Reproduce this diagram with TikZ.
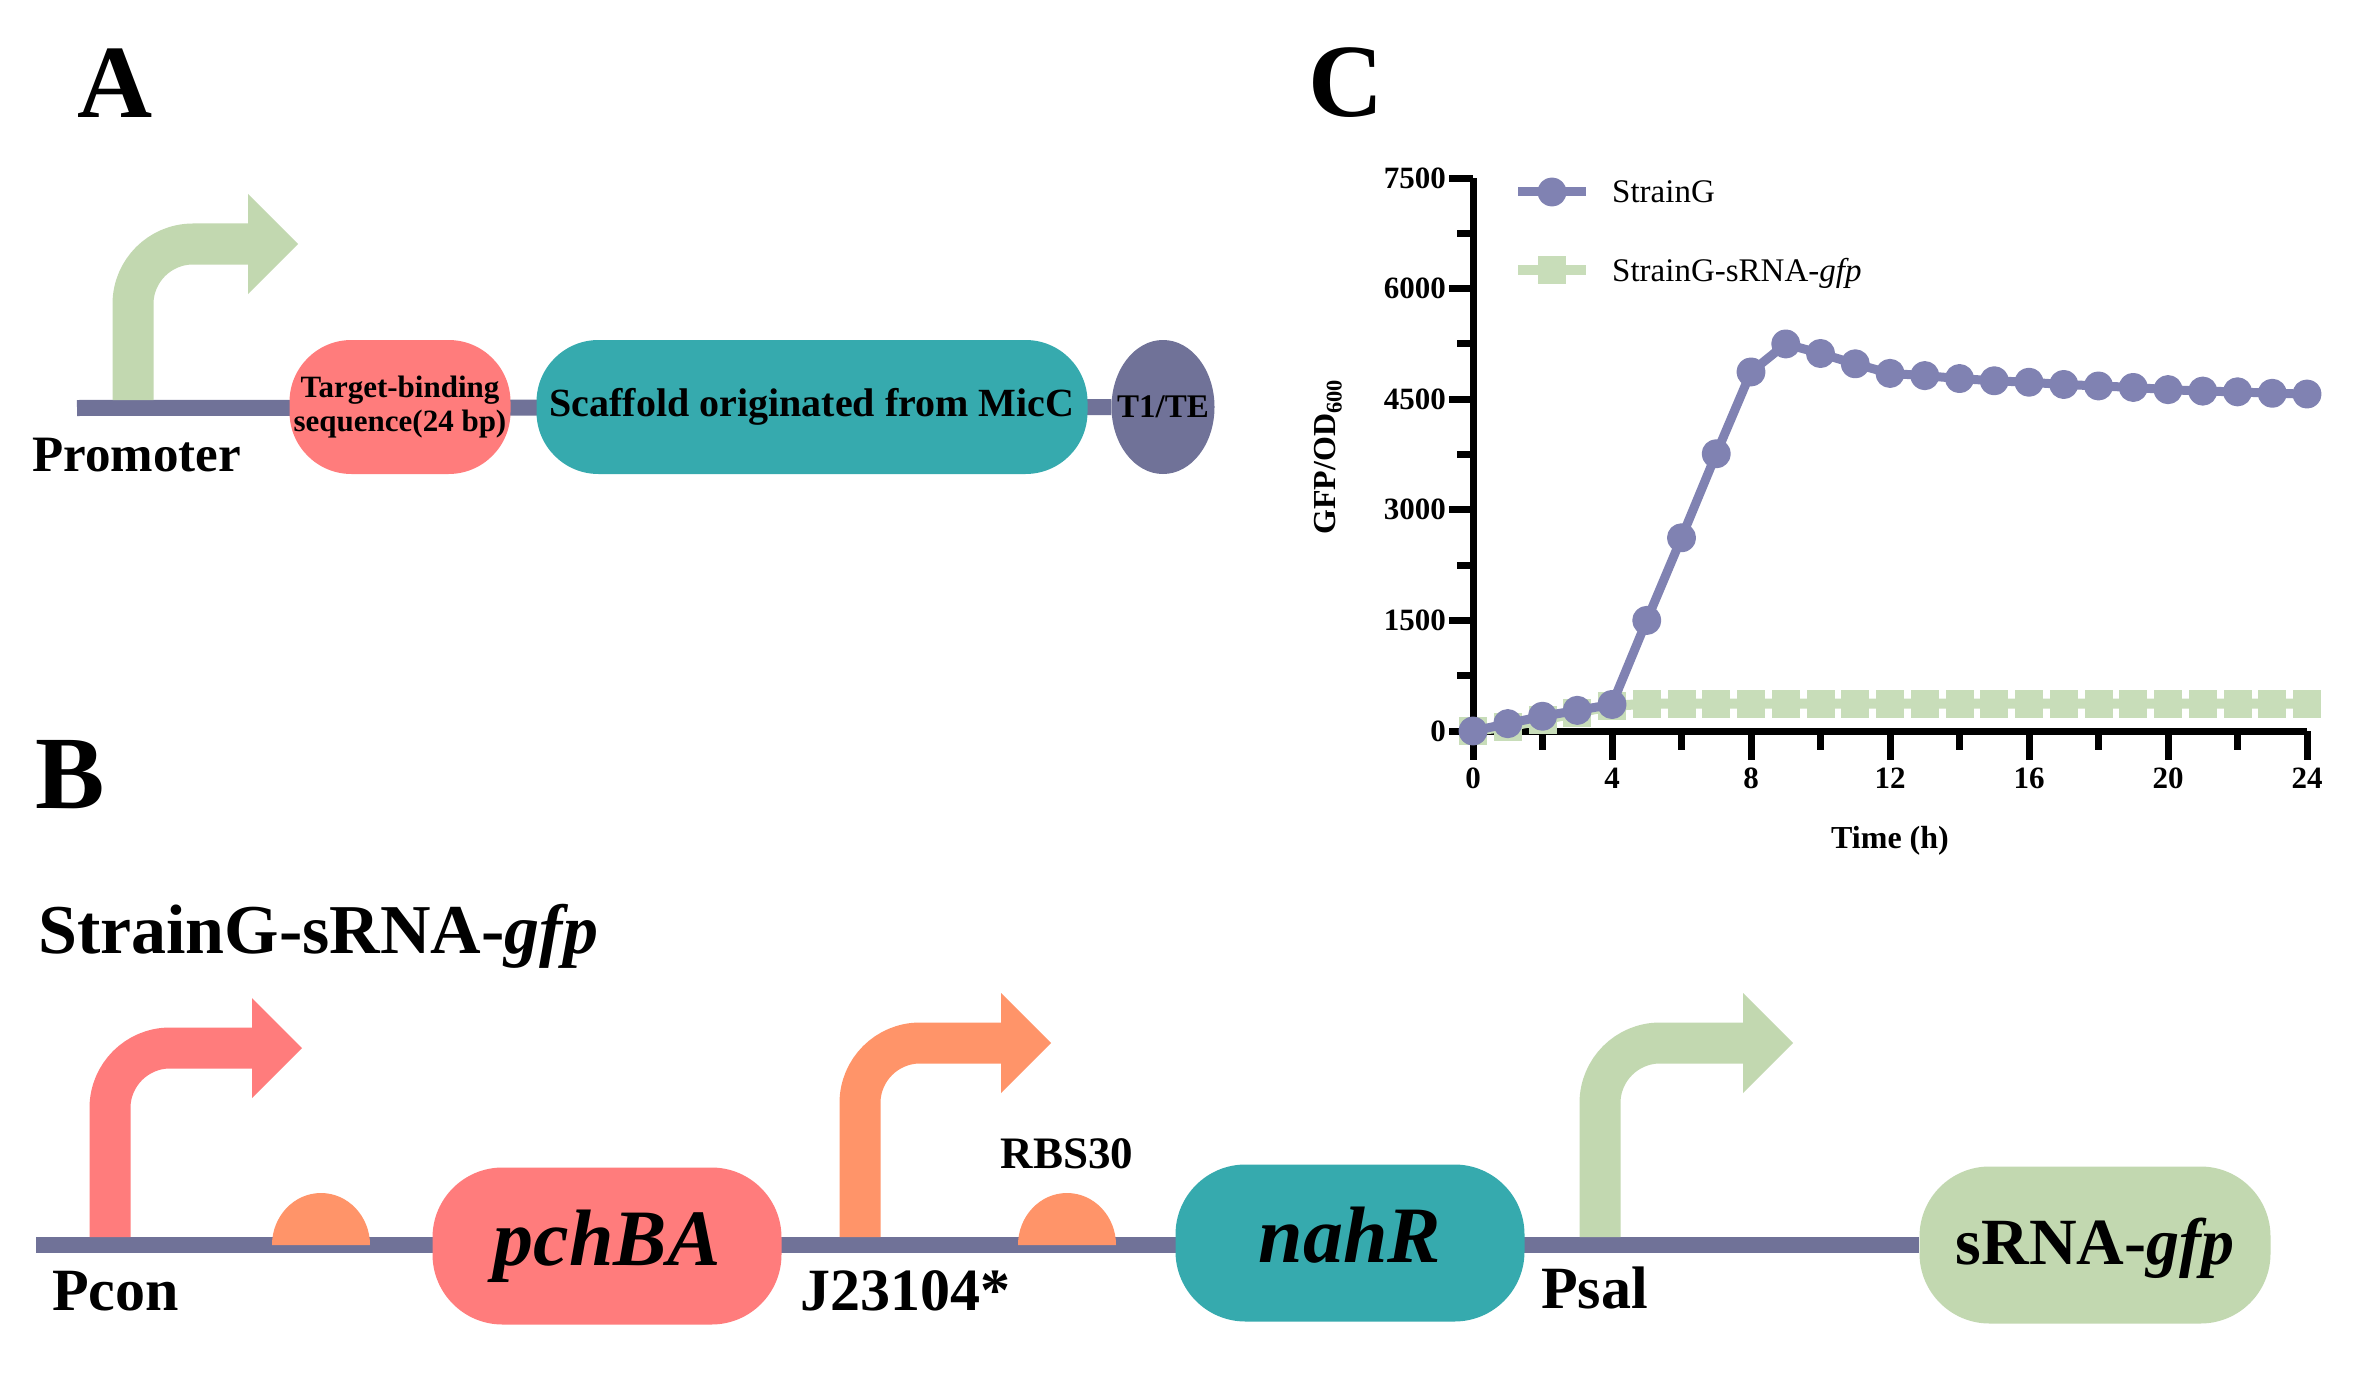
\documentclass[tikz,border=0pt]{standalone}
\usepackage{fontspec}
\setmainfont{Liberation Serif}
\usetikzlibrary{shapes.geometric, plotmarks, backgrounds}

\definecolor{salmon}{RGB}{255,124,124}
\definecolor{rbsorange}{RGB}{255,148,105}
\definecolor{partteal}{RGB}{54,170,174}
\definecolor{slate}{RGB}{112,114,152}
\definecolor{sage}{RGB}{194,216,176}
\definecolor{plotpurple}{RGB}{128,130,178}
\definecolor{plotgreen}{RGB}{200,221,185}

\newcommand{\pxfont}[2]{\fontsize{#1}{#2}\selectfont}
\newcommand{\promoterArrow}[5]{
	\draw[#5, line width=41pt, rounded corners=60pt] (#1, #2) -- (#1, #3) -- (#4, #3);
	\fill[#5] (#4, #3-50) -- (#4+50, #3) -- (#4, #3+50) -- cycle;
}
\newcommand{\rbsDome}[2]{
	\fill[rbsorange] (#1-49, #2) arc[start angle=180, end angle=0, x radius=49pt, y radius=52pt] -- cycle;
}

\tikzset{
	backbone/.style={slate, line width=16pt},
	panelletter/.style={font=\pxfont{104}{110}\bfseries, inner sep=0pt},
	partlabel/.style={font=\pxfont{60}{66}\bfseries, inner sep=0pt},
	partA/.style={rectangle, rounded corners=62pt, inner sep=0pt, minimum height=134pt},
	genebox/.style={rectangle, rounded corners=70pt, inner sep=0pt, minimum width=349pt, minimum height=157pt, text height=55pt, text depth=17pt},
	axisline/.style={black, line width=7pt},
	ticklabel/.style={font=\pxfont{31}{34}\bfseries, inner sep=0pt},
	axislabel/.style={font=\pxfont{32}{35}\bfseries, inner sep=0pt},
	legendtext/.style={font=\pxfont{33}{36}, inner sep=0pt},
	straing/.style={plotpurple, line width=9pt, line join=round, mark=*, mark size=10pt, mark options={draw=none, fill=plotpurple}},
	strainsrna/.style={plotgreen, line width=10pt, mark=square*, mark size=9pt, mark options={draw=none, fill=plotgreen}},
}

\begin{document}
\begin{tikzpicture}[x=1pt, y=-1pt]
	\useasboundingbox (0,0) rectangle (2366,1375);

	% Panel A: sRNA construct
	\node[panelletter, anchor=base] (labelA) at (115,118) {A};
	\promoterArrow{133}{400}{244}{248}{sage}
	\node[partA, fill=salmon, minimum width=221pt, align=center, font=\pxfont{31}{34}\bfseries] (tbs) at (400,407) {Target-binding\\sequence(24 bp)};
	\node[partA, fill=partteal, minimum width=551pt, font=\pxfont{40}{44}\bfseries] (scaffold) at (812,407) {Scaffold originated from MicC};
	\node[ellipse, fill=slate, minimum width=103pt, minimum height=134pt, inner sep=0pt,
		label={[font=\pxfont{33}{36}\bfseries, inner sep=0pt]center:T1/TE}] (term) at (1163,407) {};
	\node[anchor=base west, font=\pxfont{51}{56}\bfseries, inner sep=0pt] (promLabel) at (32,471) {Promoter};
	\coordinate (startA) at (77,408);

	% Panel C: GFP time course
	\node[panelletter, anchor=base] (labelC) at (1346,117) {C};
	\begin{scope}[shift={(1473,731)}, x=34.75pt, y=0.073733pt]
		\foreach \v in {0,1500,...,7500} {
			\draw[axisline] (0,\v) -- ++(-24pt,0pt);
			\node[ticklabel, anchor=east] (ytick\v) at ([xshift=-27pt]0,\v) {\v};
		}
		\foreach \v in {750,2250,...,6750}
			\draw[axisline] (0,\v) -- ++(-16pt,0pt);
		\foreach \t in {0,4,...,24} {
			\draw[axisline] (\t,0) -- ++(0pt,-29pt);
			\node[ticklabel, anchor=base] (xtick\t) at ([yshift=-57pt]\t,0) {\t};
		}
		\foreach \t in {2,6,...,22}
			\draw[axisline] (\t,0) -- ++(0pt,-19pt);
		\draw[axisline] (0,7500) -- (0,0) -- (24,0);
		% StrainG-sRNA-gfp
		\draw[strainsrna] plot coordinates {(0,0) (1,60) (2,150) (3,250) (4,340) (5,370) (6,370) (7,370) (8,370) (9,370) (10,370) (11,370) (12,370) (13,370) (14,370) (15,370) (16,370) (17,370) (18,370) (19,370) (20,370) (21,370) (22,370) (23,370) (24,370)};
		% StrainG
		\draw[straing] plot coordinates {(0,0) (1,100) (2,200) (3,280) (4,360) (5,1500) (6,2620) (7,3760) (8,4870) (9,5250) (10,5120) (11,4980) (12,4850) (13,4820) (14,4780) (15,4750) (16,4730) (17,4700) (18,4680) (19,4660) (20,4630) (21,4610) (22,4600) (23,4580) (24,4570)};
	\end{scope}
	\node[axislabel, rotate=90] (yLabel) at (1328,457) {GFP/OD\textsubscript{600}};
	\node[axislabel, anchor=base] (xLabel) at (1890,848) {Time (h)};
	% legend
	\draw[straing] plot[mark indices={2}] coordinates {(1518,192) (1552,192) (1586,192)};
	\draw[strainsrna] plot[mark indices={2}] coordinates {(1518,270) (1552,270) (1586,270)};
	\node[legendtext, anchor=base west] (legG) at (1612,203) {StrainG};
	\node[legendtext, anchor=base west] (legS) at (1612,281) {StrainG-sRNA-\textit{gfp}};

	% Panel B: StrainG-sRNA-gfp circuit
	\node[panelletter, anchor=base] (labelB) at (70,808) {B};
	\node[anchor=base west, font=\pxfont{70}{76}\bfseries, inner sep=0pt] (strainTitle) at (38,953) {StrainG-sRNA-\textit{gfp}};
	\promoterArrow{110}{1237}{1048}{252}{salmon}
	\promoterArrow{860}{1237}{1043}{1001}{rbsorange}
	\promoterArrow{1600}{1237}{1043}{1743}{sage}
	\rbsDome{321}{1245}
	\rbsDome{1067}{1245}
	\node[genebox, fill=salmon, font=\pxfont{80}{88}\bfseries\itshape] (pchba) at (607,1246) {pchBA};
	\node[genebox, fill=partteal, font=\pxfont{80}{88}\bfseries\itshape] (nahr) at (1350,1243) {nahR};
	\node[genebox, fill=sage, minimum width=351pt, font=\pxfont{66}{72}\bfseries] (srna) at (2095,1245) {sRNA-\textit{gfp}};
	\node[partlabel, anchor=base west] (pconLabel) at (52,1310) {Pcon};
	\node[partlabel, anchor=base west] (jLabel) at (800,1310) {J23104*};
	\node[partlabel, anchor=base west] (psalLabel) at (1541,1308) {Psal};
	\node[font=\pxfont{45}{50}\bfseries, inner sep=0pt, anchor=base] (rbsLabel) at (1067,1168) {RBS30};
	\coordinate (startB) at (36,1245);

	\begin{scope}[on background layer]
		\fill[white] (0,0) rectangle (2366,1375);
		\draw[backbone] (startA) -- (term);
		\draw[backbone] (startB) -- (srna);
	\end{scope}
\end{tikzpicture}
\end{document}
